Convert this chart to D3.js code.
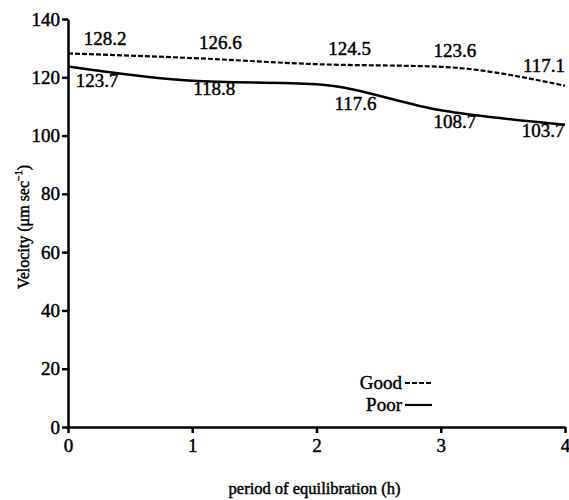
<!DOCTYPE html>
<html>
<head>
<meta charset="utf-8">
<title>Velocity vs period of equilibration</title>
<style>
  body { margin: 0; background: #fff; }
  svg { display: block; }
</style>
</head>
<body>
<div id="chart"></div>
<script src="https://d3js.org/d3.v7.min.js"></script>
<script>

// data
var hours      = [0, 1, 2, 3, 4];
var goodValues = [128.2, 126.6, 124.5, 123.6, 117.1];
var poorValues = [123.7, 118.8, 117.6, 108.7, 103.7];
var yTicks     = [0, 20, 40, 60, 80, 100, 120, 140];
var xTicks     = [0, 1, 2, 3, 4];

// label nudges (pixels) so numbers sit clear of the lines
var goodLabelDx = [37, 28, 33, 14, -21],
    goodLabelDy = [-8, -9, -9, -10, -14],
    poorLabelDx = [29, 22, 39, 14, -22],
    poorLabelDy = [20, 14, 26, 18, 12];

var FONT = "Liberation Serif",
    TEXT_STROKE = 0.45; // the scanned figure prints rather heavy

var width  = 569,
    height = 500,
    margin = {top: 19, right: 4, bottom: 73, left: 68};

var svg = d3.select("#chart").append("svg")
    .attr("width", width)
    .attr("height", height)
    .attr("font-family", FONT);

var x = d3.scaleLinear()
    .domain([0, 4])
    .range([margin.left, width - margin.right]);

var y = d3.scaleLinear()
    .domain([0, 140])
    .range([height - margin.bottom, margin.top]);

// axes
var xAxis = svg.append("g")
    .attr("transform", "translate(0," + y(0) + ")")
    .call(d3.axisBottom(x).tickValues(xTicks).tickFormat(d3.format("d"))
        .tickSize(6).tickPadding(6).tickSizeOuter(0));

var yAxis = svg.append("g")
    .attr("transform", "translate(" + x(0) + ",0)")
    .call(d3.axisLeft(y).tickValues(yTicks).tickFormat(d3.format("d"))
        .tickSize(6).tickPadding(2).tickSizeOuter(0));

[xAxis, yAxis].forEach(function(ax){
    ax.attr("font-family", FONT).attr("font-size", 19);
    ax.selectAll("path, line").attr("stroke", "#000").attr("stroke-width", 2.5);
    ax.selectAll("text").attr("fill", "#000")
        .attr("stroke", "#000").attr("stroke-width", TEXT_STROKE);
});

// lines
var line = function(vals){
    return d3.line()
        .x(function(d, i){ return x(hours[i]); })
        .y(function(d){ return y(d); })
        .curve(d3.curveMonotoneX)(vals);
};

svg.append("path")
    .attr("d", line(goodValues))
    .attr("fill", "none")
    .attr("stroke", "#000")
    .attr("stroke-width", 2.2)
    .attr("stroke-dasharray", "5,2");

svg.append("path")
    .attr("d", line(poorValues))
    .attr("fill", "none")
    .attr("stroke", "#000")
    .attr("stroke-width", 2.5);

// value labels
function addLabels(vals, dxs, dys){
    svg.append("g").selectAll("text")
        .data(vals)
        .enter().append("text")
        .attr("x", function(d, i){ return x(hours[i]) + dxs[i]; })
        .attr("y", function(d, i){ return y(d) + dys[i]; })
        .attr("text-anchor", "middle")
        .attr("font-family", FONT)
        .attr("font-size", 19)
        .attr("stroke", "#000")
        .attr("stroke-width", TEXT_STROKE)
        .text(function(d){ return d.toFixed(1); });
}
addLabels(goodValues, goodLabelDx, goodLabelDy);
addLabels(poorValues, poorLabelDx, poorLabelDy);

// axis titles
svg.append("text")
    .attr("x", (x(0) + x(4)) / 2 - 2)
    .attr("y", 494)
    .attr("text-anchor", "middle")
    .attr("font-family", FONT)
    .attr("font-size", 16.5)
    .attr("stroke", "#000")
    .attr("stroke-width", TEXT_STROKE)
    .text("period of equilibration (h)");

var yt = svg.append("text")
    .attr("transform", "translate(29," + ((y(0) + y(140)) / 2 + 4) + ") rotate(-90)")
    .attr("text-anchor", "middle")
    .attr("font-family", FONT)
    .attr("font-size", 16)
    .attr("stroke", "#000")
    .attr("stroke-width", TEXT_STROKE);
yt.append("tspan").text("Velocity (\u03bcm sec");
yt.append("tspan").attr("dy", -7).attr("font-size", 10).text("\u22121");
yt.append("tspan").attr("dy", 7).text(")");

// legend
var legend = svg.append("g").attr("transform", "translate(403,0)");
var items = [{name: "Good", dash: "5,2", y: 389}, {name: "Poor", dash: null, y: 411}];
items.forEach(function(it){
    legend.append("text")
        .attr("x", -1)
        .attr("y", it.y)
        .attr("text-anchor", "end")
        .attr("font-family", FONT)
        .attr("font-size", 19)
        .attr("stroke", "#000")
        .attr("stroke-width", TEXT_STROKE)
        .text(it.name);
    legend.append("line")
        .attr("x1", 2).attr("x2", 29)
        .attr("y1", it.y - 6).attr("y2", it.y - 6)
        .attr("stroke", "#000")
        .attr("stroke-width", 2.2)
        .attr("stroke-dasharray", it.dash);
});
</script>
</body>
</html>
